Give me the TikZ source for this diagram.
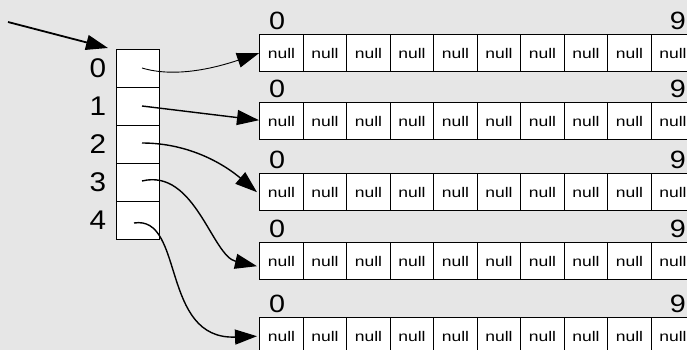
\documentclass[tikz,border=0pt]{standalone}
\usepackage{fontspec}
\setmainfont{Liberation Sans}
\usetikzlibrary{arrows.meta,calc}
\definecolor{bg}{RGB}{230,230,230}
\newcommand{\nulltxt}{\fontsize{14}{16}\selectfont\scalebox{1.25}[1]{null}}
\newcommand{\biglbl}[1]{\fontsize{25}{27}\selectfont\scalebox{1.15}[1]{#1}}
\newcommand{\idxlbl}[1]{\fontsize{27}{29}\selectfont\scalebox{1.1}[1]{#1}}
\begin{document}
\begin{tikzpicture}[x=1pt,y=-1pt,
  cell/.style={draw=black, fill=white, line width=1.4pt, minimum width=43.5pt, minimum height=37pt, inner sep=0pt, anchor=north west},
  idx/.style={draw=black, fill=white, line width=1.4pt, minimum width=43pt, minimum height=38pt, inner sep=0pt, anchor=north west},
  lbl/.style={inner sep=0pt},
  arr/.style={-{Triangle[length=22pt,width=15pt]}, line width=1.4pt}]
\fill[bg] (0,0) rectangle (687,350);
\useasboundingbox (0,0) rectangle (687,350);
% index array
\foreach \k in {0,...,4}{
  \node[idx] (a\k) at (116,{49+38*\k}) {};
  \node[lbl] (l\k) at (98,{68+38*\k}) {\idxlbl{\k}};
}
% rows
\foreach \r/\t in {0/34,1/102,2/173,3/242,4/317}{
  \foreach \c in {0,...,9}{
    \node[cell] (r\r c\c) at ({259+43.5*\c},\t) {\nulltxt};
  }
  \node[lbl] (z\r) at (277,{\t-13}) {\biglbl{0}};
  \node[lbl, anchor=east] (n\r) at (686,{\t-13}) {\biglbl{9}};
}
% incoming arrow
\coordinate (src) at (8,22);
\coordinate (t0) at ($(a0.north west)+(-8,-1)$);
\draw[arr, line width=1.8pt] (src) -- (t0);
% pointers
\coordinate (s0) at (142,68);
\coordinate (s1) at (142,106);
\coordinate (s2) at (142,143);
\coordinate (s3) at (142,181);
\coordinate (s4) at (134,223);
\coordinate (e3) at ($(r3c0.west)+(-2,5)$);
\draw[arr, line width=0.9pt] (s0) .. controls (175,78) and (215,68) .. (r0c0.west);
\draw[arr] (s1) -- ($(r1c0.west)+(0,-1)$);
\draw[arr] (s2) .. controls (190,143) and (225,165) .. ($(r2c0.west)+(-2,0)$);
\draw[arr] (s3) .. controls (195,168) and (212,256) .. (e3);
\draw[arr] (s4) .. controls (185,215) and (160,340) .. ($(r4c0.west)+(-2,0)$);
\end{tikzpicture}
\end{document}
